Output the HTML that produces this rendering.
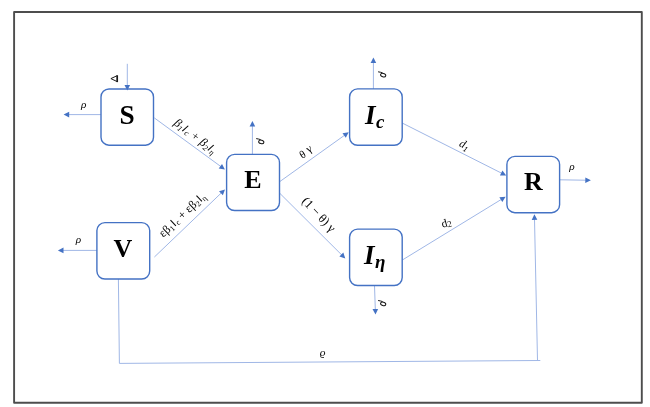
<!DOCTYPE html>
<html><head><meta charset="utf-8"><style>
html,body{margin:0;padding:0;background:#fff;}
body{width:650px;height:407px;overflow:hidden;}
svg{display:block;will-change:transform;filter:blur(0.3px);}
text{font-family:"Liberation Serif",serif;fill:#000;}
.big{font-size:26px;font-weight:bold;}
.bigi{font-size:27px;font-weight:bold;font-style:italic;}
.subi{font-size:19px;font-weight:bold;font-style:italic;}
</style></head><body>
<svg width="650" height="407" viewBox="0 0 650 407">
<rect width="650" height="407" fill="#fff"/>
<rect x="14.1" y="12" width="627.7" height="390.75" fill="none" stroke="#4d4d4d" stroke-width="1.9" stroke-linejoin="round"/>
<line x1="127.30" y1="63.80" x2="127.30" y2="85.90" stroke="#A0B7E6" stroke-width="1.0"/>
<polygon points="127.30,90.50 124.50,84.90 130.10,84.90" fill="#4472C4"/>
<line x1="101.00" y1="114.60" x2="68.20" y2="114.60" stroke="#A0B7E6" stroke-width="1.0"/>
<polygon points="63.60,114.60 69.20,111.80 69.20,117.40" fill="#4472C4"/>
<line x1="154.30" y1="117.90" x2="221.19" y2="166.79" stroke="#A0B7E6" stroke-width="1.0"/>
<polygon points="224.90,169.50 218.73,168.46 222.03,163.94" fill="#4472C4"/>
<line x1="154.40" y1="257.00" x2="221.68" y2="192.58" stroke="#A0B7E6" stroke-width="1.0"/>
<polygon points="225.00,189.40 222.89,195.30 219.02,191.25" fill="#4472C4"/>
<line x1="96.90" y1="250.40" x2="62.50" y2="250.40" stroke="#A0B7E6" stroke-width="1.0"/>
<polygon points="57.90,250.40 63.50,247.60 63.50,253.20" fill="#4472C4"/>
<line x1="252.40" y1="154.40" x2="252.40" y2="125.60" stroke="#A0B7E6" stroke-width="1.0"/>
<polygon points="252.40,121.00 255.20,126.60 249.60,126.60" fill="#4472C4"/>
<line x1="279.50" y1="181.80" x2="344.96" y2="134.98" stroke="#A0B7E6" stroke-width="1.0"/>
<polygon points="348.70,132.30 345.77,137.84 342.52,133.28" fill="#4472C4"/>
<line x1="279.50" y1="193.00" x2="342.04" y2="255.25" stroke="#A0B7E6" stroke-width="1.0"/>
<polygon points="345.30,258.50 339.36,256.53 343.31,252.56" fill="#4472C4"/>
<line x1="373.40" y1="88.90" x2="373.40" y2="62.10" stroke="#A0B7E6" stroke-width="1.0"/>
<polygon points="373.40,57.50 376.20,63.10 370.60,63.10" fill="#4472C4"/>
<line x1="374.50" y1="285.50" x2="375.34" y2="310.00" stroke="#A0B7E6" stroke-width="1.0"/>
<polygon points="375.50,314.60 372.51,309.10 378.11,308.91" fill="#4472C4"/>
<line x1="402.20" y1="123.00" x2="502.09" y2="173.43" stroke="#A0B7E6" stroke-width="1.0"/>
<polygon points="506.20,175.50 499.94,175.48 502.46,170.48" fill="#4472C4"/>
<line x1="402.20" y1="260.10" x2="501.68" y2="199.20" stroke="#A0B7E6" stroke-width="1.0"/>
<polygon points="505.60,196.80 502.29,202.11 499.36,197.34" fill="#4472C4"/>
<line x1="559.60" y1="179.80" x2="586.30" y2="180.23" stroke="#A0B7E6" stroke-width="1.0"/>
<polygon points="590.90,180.30 585.26,183.01 585.35,177.41" fill="#4472C4"/>
<line x1="118.40" y1="279.00" x2="119.40" y2="363.40" stroke="#A0B7E6" stroke-width="1.0"/>
<line x1="119.40" y1="363.40" x2="540.30" y2="360.50" stroke="#A0B7E6" stroke-width="1.0"/>
<line x1="537.50" y1="360.50" x2="534.50" y2="218.90" stroke="#A0B7E6" stroke-width="1.0"/>
<polygon points="534.40,214.30 537.32,219.84 531.72,219.96" fill="#4472C4"/>
<rect x="101" y="89" width="52.50" height="56.20" rx="8" ry="8" fill="none" stroke="#4472C4" stroke-width="1.4"/>
<rect x="226.6" y="154.4" width="52.90" height="56.10" rx="8" ry="8" fill="none" stroke="#4472C4" stroke-width="1.4"/>
<rect x="96.9" y="222.6" width="52.80" height="56.40" rx="8" ry="8" fill="none" stroke="#4472C4" stroke-width="1.4"/>
<rect x="349.6" y="88.9" width="52.60" height="56.40" rx="8" ry="8" fill="none" stroke="#4472C4" stroke-width="1.4"/>
<rect x="349.6" y="229.1" width="52.60" height="56.40" rx="8" ry="8" fill="none" stroke="#4472C4" stroke-width="1.4"/>
<rect x="506.9" y="156.4" width="52.70" height="56.30" rx="8" ry="8" fill="none" stroke="#4472C4" stroke-width="1.4"/>

<text x="127" y="124" text-anchor="middle" class="big" style="font-size:27.3px">S</text>
<text x="253" y="188.2" text-anchor="middle" class="big">E</text>
<text x="123" y="257" text-anchor="middle" class="big">V</text>
<text x="533.3" y="190.4" text-anchor="middle" class="big">R</text>
<text x="365" y="124" class="bigi">I</text><text x="376" y="128" class="subi">c</text>
<text x="364" y="264" class="bigi">I</text><text x="375" y="268" class="subi">η</text>

<path d="M117.1,75.7 L110.9,78.6 L117.1,81.6 Z" fill="none" stroke="#1a1a1a" stroke-width="1" stroke-linejoin="miter"/><line x1="117.3" y1="75.3" x2="117.3" y2="82.1" stroke="#1a1a1a" stroke-width="1.5"/>
<text transform="translate(83.8,108) rotate(0)" text-anchor="middle" style="font-size:11.3px;font-style:italic;">ρ</text>
<text transform="translate(78.5,243) rotate(0)" text-anchor="middle" style="font-size:11.3px;font-style:italic;">ρ</text>
<text transform="translate(572,169.5) rotate(0)" text-anchor="middle" style="font-size:11.3px;font-style:italic;">ρ</text>
<text transform="translate(322.6,355.5) rotate(0)" text-anchor="middle" style="font-size:11.3px;font-style:italic;">ϱ</text>
<g transform="translate(261.1,141.8)" fill="none" stroke="#151515" stroke-width="1.0"><ellipse cx="0.2" cy="0.1" rx="2.65" ry="1.7" transform="rotate(15)"/><path d="M-4.9,-3.2 Q-2.6,-2.9 -0.4,-2.1"/></g>
<g transform="translate(383,75)" fill="none" stroke="#151515" stroke-width="1.0"><ellipse cx="0.2" cy="0.1" rx="2.65" ry="1.7" transform="rotate(15)"/><path d="M-4.9,-3.2 Q-2.6,-2.9 -0.4,-2.1"/></g>
<g transform="translate(383,303.7)" fill="none" stroke="#151515" stroke-width="1.0"><ellipse cx="0.2" cy="0.1" rx="2.65" ry="1.7" transform="rotate(15)"/><path d="M-4.9,-3.2 Q-2.6,-2.9 -0.4,-2.1"/></g>
<text transform="translate(193,139.2) rotate(37)" text-anchor="middle" style="font-size:12px;font-style:italic;">β<tspan font-size="8" dy="2">1</tspan><tspan dy="-2" dx="0.6" font-family="Liberation Sans" font-size="11.5">I</tspan><tspan font-size="8" dy="1.5" dx="0.5">c</tspan><tspan dy="-1.5"> + β</tspan><tspan font-size="8" dy="2">2</tspan><tspan dy="-2" dx="0.6" font-family="Liberation Sans" font-size="11.5">I</tspan><tspan font-size="8" dy="2">η</tspan></text>
<text transform="translate(184.7,217.6) rotate(-43.5)" text-anchor="middle" style="font-size:12px;">εβ<tspan font-size="8" dy="2">1</tspan><tspan dy="-2" dx="0.6" font-family="Liberation Sans" font-size="11.5">I</tspan><tspan font-size="8" dy="1.5" dx="0.5">c</tspan><tspan dy="-1.5"> + εβ</tspan><tspan font-size="8" dy="2">2</tspan><tspan dy="-2" dx="0.6" font-family="Liberation Sans" font-size="11.5">I</tspan><tspan font-size="8" dy="2">η</tspan></text>
<text transform="translate(304.5,157.5) rotate(-32)" text-anchor="middle" style="font-size:11px;">θ</text>
<text transform="translate(310.7,151.7) rotate(-32)" text-anchor="middle" style="font-size:11px;">γ</text>
<text transform="translate(315.9,217.2) rotate(46.5)" text-anchor="middle" style="font-size:12.6px;">(1 − θ) γ</text>
<text transform="translate(462.8,148) rotate(27)" text-anchor="middle" style="font-size:11.5px;font-style:italic;">d<tspan font-size="8" dy="2.5">1</tspan></text>
<text transform="translate(447.3,226.5) rotate(-15)" text-anchor="middle" style="font-size:11.5px;">d<tspan font-size="8.5" dy="1">2</tspan></text>
</svg>
</body></html>
